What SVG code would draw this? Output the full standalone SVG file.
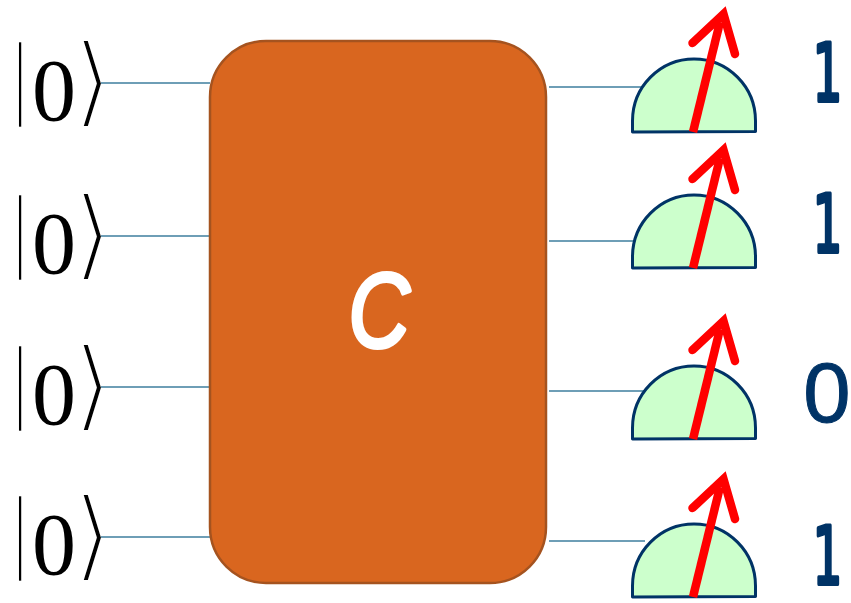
<svg xmlns="http://www.w3.org/2000/svg" width="851" height="603" viewBox="0 0 851 603">
<style>
.w{stroke:#3f7f9f;stroke-width:1.500;fill:none}
.ket{font-family:"Liberation Serif",serif;fill:#000}
.z{font-size:88px}
.bar{font-size:96px;stroke:#fff;stroke-width:2.500}
.ang{font-size:100px;font-family:"DejaVu Sans",sans-serif;stroke:#fff;stroke-width:4}
.one{font-family:"DejaVu Sans",sans-serif;font-size:80px;fill:#003366;stroke:#003366;stroke-width:4;stroke-linejoin:round;text-anchor:middle}
.nil{font-family:"Liberation Sans",sans-serif;font-size:85px;fill:#003366;stroke:#003366;stroke-width:1;text-anchor:middle}
.dome{fill:#ccffcc;stroke:#003366;stroke-width:3;stroke-linejoin:round}
.needle{fill:none;stroke:#ff0000;stroke-width:8.500;stroke-linejoin:miter}
.arm{stroke-linecap:round}
</style>
<defs>
<g id="meter">
<path class="dome" d="M632.500 132V121A61.500 62 0 0 1 755.500 121V131.500Z"/>
<path class="needle" d="M693 132L720 22"/>
<path class="needle arm" d="M692.500 43L723.500 14L735 54"/>
</g>
</defs>
<g id="input-1"><text class="ket" y="120"><tspan class="bar" x="10.400" dy="-12.500">|</tspan><tspan class="z" x="32" dy="12.500">0</tspan><tspan class="ang" x="73" dy="-5">⟩</tspan></text></g>
<g id="input-2"><text class="ket" y="273"><tspan class="bar" x="10.400" dy="-12.500">|</tspan><tspan class="z" x="32" dy="12.500">0</tspan><tspan class="ang" x="73" dy="-5">⟩</tspan></text></g>
<g id="input-3"><text class="ket" y="424"><tspan class="bar" x="10.400" dy="-12.500">|</tspan><tspan class="z" x="32" dy="12.500">0</tspan><tspan class="ang" x="73" dy="-5">⟩</tspan></text></g>
<g id="input-4"><text class="ket" y="574"><tspan class="bar" x="10.400" dy="-12.500">|</tspan><tspan class="z" x="32" dy="12.500">0</tspan><tspan class="ang" x="73" dy="-5">⟩</tspan></text></g>
<g id="connectors">
<path class="w" d="M101 83H210M101 236H210M101 387H210M101 537H210"/>
<path class="w" d="M549 87H645M549 241H645M549 391H645M549 541H645"/>
</g>
<g id="circuit">
<rect x="210" y="41" width="336" height="542" rx="56" ry="56" fill="#d9661f" stroke="#a5531f" stroke-width="2.500"/>
<text transform="translate(379 347) scale(.8 1)" font-family="'Liberation Sans',sans-serif" font-style="italic" font-size="106" fill="#fff" stroke="#fff" stroke-width="4" stroke-linejoin="round" stroke-linecap="round" text-anchor="middle">C</text>
</g>
<g id="meter-1"><use href="#meter"/></g>
<g id="meter-2"><use href="#meter" y="136"/></g>
<g id="meter-3"><use href="#meter" y="307"/></g>
<g id="meter-4"><use href="#meter" y="465"/></g>
<g id="output-1"><text class="one" transform="translate(827.500 100.500) scale(.58 1)">1</text></g>
<g id="output-2"><text class="one" transform="translate(827.500 251.500) scale(.58 1)">1</text></g>
<g id="output-3"><text class="nil" x="827" y="422">0</text></g>
<g id="output-4"><text class="one" transform="translate(827.500 583.500) scale(.58 1)">1</text></g>
</svg>
